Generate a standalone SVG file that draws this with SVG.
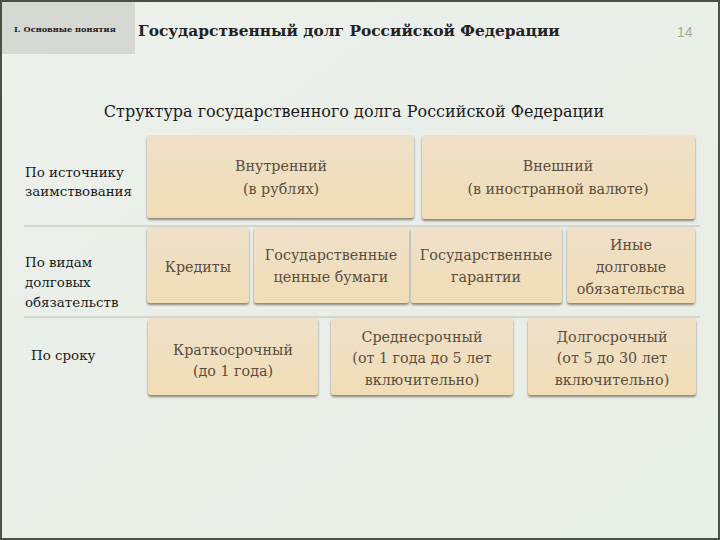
<svg xmlns="http://www.w3.org/2000/svg" width="720" height="540" viewBox="0 0 720 540">
<defs>
<linearGradient id="bg" x1="0" y1="0" x2="1" y2="1">
<stop offset="0" stop-color="#eef1ec"/>
<stop offset="0.5" stop-color="#e9eee8"/>
<stop offset="1" stop-color="#e8efe5"/>
</linearGradient>
<linearGradient id="box" x1="0" y1="0" x2="0" y2="1">
<stop offset="0" stop-color="#eee0c9"/>
<stop offset="1" stop-color="#f1ddb6"/>
</linearGradient>
<filter id="sh" x="-5%" y="-5%" width="110%" height="120%">
<feDropShadow dx="0" dy="2" stdDeviation="1" flood-color="#6f6a5e" flood-opacity="0.8"/>
</filter>
<style>
text{font-family:"DejaVu Serif","Liberation Serif",serif}
.b{fill:url(#box);filter:url(#sh)}
.t{font-size:14.3px;fill:#5b4e3e;text-anchor:middle}
.l{font-size:13.4px;fill:#1a1a1a}
.sep{stroke:#b9bdb6;stroke-width:1.2}
</style>
</defs>
<rect x="0" y="0" width="720" height="540" fill="url(#bg)"/>
<rect x="1" y="1" width="718" height="538" fill="none" stroke="#4a5048" stroke-width="2"/>
<rect x="2" y="2" width="133" height="52" fill="#d6d9d3"/>
<text x="14" y="32" font-size="8.2" font-weight="bold" fill="#222">I. Основные понятия</text>
<text x="138" y="36" font-size="15.4" font-weight="bold" fill="#222">Государственный долг Российской Федерации</text>
<text x="677" y="37" style="font-family:'Liberation Sans',Arial,sans-serif" font-size="14" fill="#a3ad86">14</text>
<text x="354" y="117" font-size="16" fill="#1a1a1a" text-anchor="middle">Структура государственного долга Российской Федерации</text>
<g id="connectors">
<line class="sep" x1="24" y1="226" x2="700" y2="226"/>
<line class="sep" x1="24" y1="317" x2="700" y2="317"/>
</g>
<g id="labels">
<text class="l" x="25" y="177">По источнику</text>
<text class="l" x="25" y="196">заимствования</text>
<text class="l" x="25" y="267">По видам</text>
<text class="l" x="25" y="287">долговых</text>
<text class="l" x="25" y="307">обязательств</text>
<text class="l" x="31" y="360">По сроку</text>
</g>
<g id="n1"><rect class="b" x="147" y="135" width="267" height="83" rx="3"/>
<text class="t" x="281" y="171">Внутренний</text><text class="t" x="281" y="194">(в рублях)</text></g>
<g id="n2"><rect class="b" x="422" y="135" width="273" height="84" rx="3"/>
<text class="t" x="558" y="171">Внешний</text><text class="t" x="558" y="194">(в иностранной валюте)</text></g>
<g id="n3"><rect class="b" x="147" y="227" width="102" height="76" rx="3"/>
<text class="t" x="198" y="272">Кредиты</text></g>
<g id="n4"><rect class="b" x="254" y="227" width="155" height="76" rx="3"/>
<text class="t" x="331" y="260">Государственные</text><text class="t" x="331" y="282">ценные бумаги</text></g>
<g id="n5"><rect class="b" x="411" y="227" width="151" height="76" rx="3"/>
<text class="t" x="486" y="260">Государственные</text><text class="t" x="486" y="282">гарантии</text></g>
<g id="n6"><rect class="b" x="567" y="227" width="128" height="76" rx="3"/>
<text class="t" x="631" y="250">Иные</text><text class="t" x="631" y="272">долговые</text><text class="t" x="631" y="294">обязательства</text></g>
<g id="n7"><rect class="b" x="148" y="318" width="170" height="77" rx="3"/>
<text class="t" x="233" y="355">Краткосрочный</text><text class="t" x="233" y="376">(до 1 года)</text></g>
<g id="n8"><rect class="b" x="331" y="318" width="182" height="77" rx="3"/>
<text class="t" x="422" y="342">Среднесрочный</text><text class="t" x="422" y="363">(от 1 года до 5 лет</text><text class="t" x="422" y="385">включительно)</text></g>
<g id="n9"><rect class="b" x="528" y="318" width="168" height="77" rx="3"/>
<text class="t" x="612" y="342">Долгосрочный</text><text class="t" x="612" y="363">(от 5 до 30 лет</text><text class="t" x="612" y="385">включительно)</text></g>
</svg>
